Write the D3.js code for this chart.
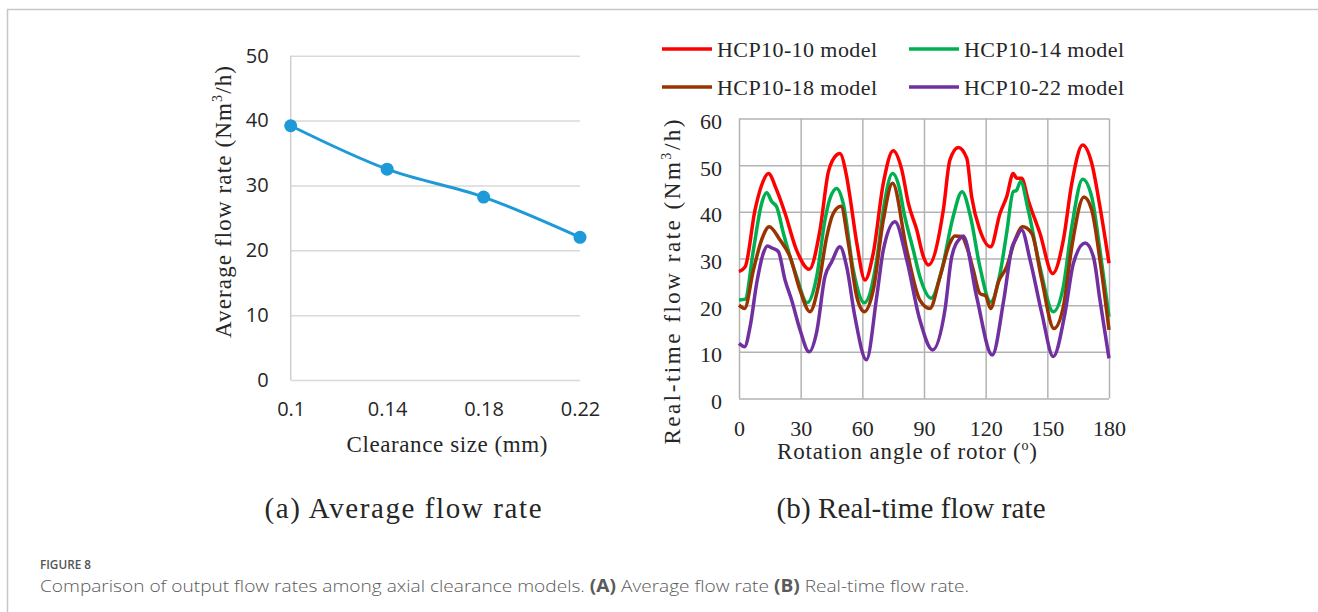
<!DOCTYPE html>
<html lang="en">
<head>
<meta charset="UTF-8">
<title>Figure 8</title>
<style>
    * { margin: 0; padding: 0; }
    html, body { overflow: hidden; background: #fff; }
    .serif { font-family: "Liberation Serif", "DejaVu Serif", serif; fill: #262626; }
    .sans { font-family: "Open Sans", "Noto Sans", sans-serif; }
</style>
</head>
<body>
<div id="chart"></div>
<script src="https://cdn.jsdelivr.net/npm/d3@7"></script>
<script>
    // (a) average flow rate
    const clearance = [0.1, 0.14, 0.18, 0.22]
    const avgFlow = [39.2, 32.5, 28.2, 22.0]
    const avgTicksY = [0, 10, 20, 30, 40, 50]

    // (b) real-time flow rate, [angle, value]
    const seriesNames = ['HCP10-10 model', 'HCP10-14 model', 'HCP10-18 model', 'HCP10-22 model']
    const hcp10 = [[0,27.2],[3,28.2],[7.8,40.4],[11,45.7],[14.3,48.2],[18.3,44.7],[22.4,39.7],[28,31.8],[34.2,27.7],[39.4,36.1],[43.5,48.6],[47.5,52.2],[49,52.5],[52.4,47.5],[54,43.2],[57.3,33.3],[61.3,25.4],[65.3,31.1],[70.2,46.1],[75,53.1],[79.2,49],[82.4,41.8],[86.5,36.1],[89.7,30.4],[92.1,28.6],[99.4,40.4],[102.6,51.1],[106.7,53.8],[110.8,51.5],[113.2,43.2],[117.2,36.1],[122.4,32.5],[127,39.7],[130.2,43.2],[133.4,48.2],[135.1,47.2],[137.5,47.2],[140.7,42.5],[146.4,35.4],[152.6,26.8],[157.8,34],[161.9,46.1],[167.2,54.3],[171.6,50.4],[175.6,41.1],[180,29]]
    const hcp14 = [[0,21.1],[3,21.3],[7,31.8],[11,41.8],[13.5,44.1],[15.9,42.2],[18.3,41.1],[21.6,35.4],[28,26.1],[33.2,20.5],[37.8,26.1],[41.8,38.2],[44.3,42.9],[47.5,45],[50.7,41.8],[55.6,27.5],[61,20.5],[67,29.7],[70.2,40.4],[74.7,48.2],[78.3,44.5],[80,40.4],[84.8,31.8],[88,26.1],[93.5,21.5],[98.6,27.5],[104.2,39],[108.5,44.3],[112.6,39],[117.2,28.2],[122.4,20.7],[127,26.8],[130.2,35.4],[133.4,44.3],[135,44.6],[137,46.5],[140.7,40.4],[146.4,28.2],[152.9,18.6],[157.8,24],[161.9,36.8],[167.2,47],[171.6,43.2],[175.6,31.8],[180,17.5]]
    const hcp18 = [[0,20],[2.7,19.3],[7,27.5],[11,34],[14.7,36.8],[19.9,34],[24.8,30.4],[29.7,23.2],[34.5,18.6],[38.6,24],[42.7,34.7],[45.9,39.7],[49.6,41.2],[53.2,33.3],[57.3,21.8],[61,18.6],[65.3,23.2],[70.2,38.2],[74.7,46.1],[81.6,31.8],[88,21.1],[92.9,19.3],[97.8,26.1],[102.6,33.3],[105,34.8],[108.3,34.7],[110.8,32.5],[114,27.5],[117.2,22.5],[120,22],[122.4,19.3],[126.2,25],[130.2,28.2],[134.3,34],[138,36.8],[142.4,35.4],[147.3,25.4],[153.2,15],[157.8,19.7],[161.9,32.5],[167.8,43.2],[171.6,40.4],[175.6,29.7],[180,14.7]]
    const hcp22 = [[0,11.8],[2.7,11.1],[5.4,15.4],[8.6,24.7],[11.8,31.1],[13.8,32.7],[16.3,32.2],[19.1,31.5],[22.4,25.4],[25.6,21.1],[29.7,14.7],[34.1,10],[37.8,14.3],[41.8,26.1],[45.1,29.3],[49.1,32.5],[52.4,28.2],[56.4,17.5],[62,8.3],[67,21.8],[70.2,31.8],[75.9,37.9],[81.6,29.7],[88,16.8],[94.2,10.4],[100.2,19],[103.5,30.4],[107.5,34.3],[109.1,34.8],[115.6,21.8],[123.2,9.3],[128.8,21.1],[132.9,32.5],[134.5,34],[137.5,36.1],[141.6,29.7],[147.3,18.3],[152.9,9],[158.6,18.3],[162.7,29],[168.4,33.3],[172.4,30.4],[175.6,21.1],[180,8.6]]
    const angleTicks = [0, 30, 60, 90, 120, 150, 180]
    const rtTicksY = [0, 10, 20, 30, 40, 50, 60]

    function drawChart() {
        const W = 1318, H = 612
        const svg = d3.select('#chart').append('svg')
            .attr('width', W).attr('height', H)

        // page frame
        svg.append('path')
            .attr('d', `M7.5,${H} V9.5 H${W}`)
            .attr('fill', 'none').attr('stroke', '#c6c6c6').attr('stroke-width', 1.5)

        // ---------- (a) ----------
        const xA = d3.scaleLinear().domain([0.1, 0.22]).range([290.7, 580])
        const yA = d3.scaleLinear().domain([0, 50]).range([380, 55.7])
        const gA = svg.append('g')

        gA.append('g')
            .attr('transform', `translate(${xA.range()[0]},0)`)
            .call(d3.axisLeft(yA).tickValues(avgTicksY).tickSize(-(xA.range()[1] - xA.range()[0])).tickPadding(22))
            .call(g => g.select('.domain').remove())
            .call(g => g.selectAll('.tick line').attr('stroke', '#d9d9d9').attr('stroke-width', 1.5))
            .call(g => g.selectAll('.tick text').attr('class', 'sans').attr('font-size', 20).attr('fill', '#262626'))

        gA.append('line')
            .attr('x1', xA.range()[0]).attr('x2', xA.range()[0])
            .attr('y1', yA(0)).attr('y2', yA(50))
            .attr('stroke', '#cfcfcf').attr('stroke-width', 1.5)

        gA.append('g')
            .attr('transform', `translate(0,${yA(0)})`)
            .call(d3.axisBottom(xA).tickValues(clearance).tickFormat(d => d).tickSize(0).tickPadding(22))
            .call(g => g.select('.domain').remove())
            .call(g => g.selectAll('.tick text').attr('class', 'sans').attr('font-size', 20).attr('fill', '#262626'))

        const avgData = clearance.map((c, i) => [c, avgFlow[i]])
        gA.append('path')
            .datum(avgData)
            .attr('d', d3.line().x(d => xA(d[0])).y(d => yA(d[1])).curve(d3.curveMonotoneX))
            .attr('fill', 'none').attr('stroke', '#1f9ad8').attr('stroke-width', 3)

        gA.selectAll('circle')
            .data(avgData)
            .join('circle')
            .attr('cx', d => xA(d[0])).attr('cy', d => yA(d[1]))
            .attr('r', 6.5).attr('fill', '#1f9ad8')

        gA.append('text')
            .attr('class', 'serif')
            .attr('transform', 'translate(231,202) rotate(-90)')
            .attr('text-anchor', 'middle').attr('font-size', 23)
            .attr('textLength', 272).attr('lengthAdjust', 'spacing')
            .html('Average flow rate (Nm<tspan font-size="14" dy="-9">3</tspan><tspan dy="9">/h)</tspan>')

        gA.append('text')
            .attr('class', 'serif')
            .attr('x', 447).attr('y', 452)
            .attr('text-anchor', 'middle').attr('font-size', 23)
            .attr('textLength', 201).attr('lengthAdjust', 'spacing')
            .text('Clearance size (mm)')

        svg.append('text')
            .attr('class', 'serif')
            .attr('x', 403).attr('y', 518)
            .attr('text-anchor', 'middle').attr('font-size', 29)
            .attr('textLength', 277).attr('lengthAdjust', 'spacing')
            .text('(a) Average flow rate')

        // ---------- (b) ----------
        const xB = d3.scaleLinear().domain([0, 180]).range([739, 1109])
        const yB = d3.scaleLinear().domain([0, 60]).range([398.5, 118.5])
        const gB = svg.append('g')
        const gridColor = '#b3b3b3'

        gB.append('g')
            .attr('transform', `translate(${xB.range()[0]},0)`)
            .call(d3.axisLeft(yB).tickValues(rtTicksY).tickSize(-(xB.range()[1] - xB.range()[0])).tickPadding(17))
            .call(g => g.select('.domain').remove())
            .call(g => g.selectAll('.tick line').attr('stroke', gridColor).attr('stroke-width', 1.5))
            .call(g => g.selectAll('.tick text').attr('class', 'serif').attr('font-size', 22).attr('dy', '0.45em'))

        gB.append('g')
            .attr('transform', `translate(0,${yB(0)})`)
            .call(d3.axisBottom(xB).tickValues(angleTicks).tickSize(-(yB(0) - yB(60))).tickPadding(22))
            .call(g => g.select('.domain').remove())
            .call(g => g.selectAll('.tick line').attr('stroke', gridColor).attr('stroke-width', 1.5))
            .call(g => g.selectAll('.tick text').attr('class', 'serif').attr('font-size', 22))

        const colors = ['#ff0000', '#00b050', '#993300', '#7030a0']
        const series = [hcp10, hcp14, hcp18, hcp22]
        const lineB = d3.line().x(d => xB(d[0])).y(d => yB(d[1])).curve(d3.curveMonotoneX)

        gB.selectAll('path.series')
            .data(series)
            .join('path')
            .attr('class', 'series')
            .attr('d', lineB)
            .attr('fill', 'none')
            .attr('stroke', (d, i) => colors[i])
            .attr('stroke-width', 3.5)
            .attr('stroke-linejoin', 'round')

        gB.append('text')
            .attr('class', 'serif')
            .attr('transform', 'translate(680,282) rotate(-90)')
            .attr('text-anchor', 'middle').attr('font-size', 23)
            .attr('textLength', 325).attr('lengthAdjust', 'spacing')
            .html('Real-time flow rate (Nm<tspan font-size="14" dy="-9">3</tspan><tspan dy="9">/h)</tspan>')

        gB.append('text')
            .attr('class', 'serif')
            .attr('x', 907).attr('y', 459)
            .attr('text-anchor', 'middle').attr('font-size', 23)
            .attr('textLength', 260).attr('lengthAdjust', 'spacing')
            .html('Rotation angle of rotor (<tspan font-size="14" dy="-9">o</tspan><tspan dy="9">)</tspan>')

        // legend
        const legend = gB.selectAll('g.legend')
            .data(seriesNames)
            .join('g')
            .attr('class', 'legend')
            .attr('transform', (d, i) => `translate(${i % 2 ? 909 : 662},${i < 2 ? 49 : 87})`)

        legend.append('line')
            .attr('x1', 0).attr('x2', 50)
            .attr('stroke', (d, i) => colors[i]).attr('stroke-width', 3.5)

        legend.append('text')
            .attr('class', 'serif')
            .attr('x', 55).attr('y', 8)
            .attr('font-size', 22)
            .attr('textLength', 160).attr('lengthAdjust', 'spacing')
            .text(d => d)

        svg.append('text')
            .attr('class', 'serif')
            .attr('x', 911).attr('y', 518)
            .attr('text-anchor', 'middle').attr('font-size', 29)
            .attr('textLength', 269).attr('lengthAdjust', 'spacing')
            .text('(b) Real-time flow rate')

        // caption
        svg.append('text')
            .attr('class', 'sans')
            .attr('x', 40).attr('y', 569)
            .attr('font-size', 13).attr('font-weight', 600).attr('fill', '#555')
            .attr('textLength', 51).attr('lengthAdjust', 'spacingAndGlyphs')
            .text('FIGURE 8')

        svg.append('text')
            .attr('class', 'sans')
            .attr('x', 40).attr('y', 592)
            .attr('font-size', 17).attr('font-weight', 300).attr('fill', '#5a5a5a')
            .attr('textLength', 929).attr('lengthAdjust', 'spacingAndGlyphs')
            .html('Comparison of output flow rates among axial clearance models. <tspan font-weight="700">(A)</tspan> Average flow rate <tspan font-weight="700">(B)</tspan> Real-time flow rate.')
    }

    drawChart()
</script>
</body>
</html>
